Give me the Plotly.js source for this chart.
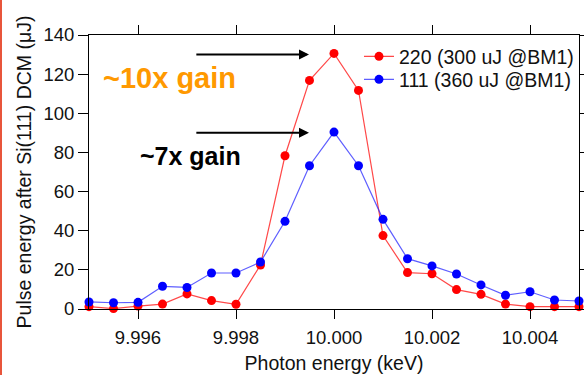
<!DOCTYPE html>
<html>
<head>
<meta charset="utf-8">
<script src="https://cdn.plot.ly/plotly-3.0.1.min.js"></script>
<style>
  html, body { margin: 0; padding: 0; background: #fff; }
  #wrap { position: relative; width: 584px; height: 375px; overflow: hidden; }
  #chart { position: absolute; left: 0; top: 0; width: 584px; height: 375px; }
  #edge { position: absolute; left: 0; top: 0; width: 2px; height: 375px; background: #e8553b; }
</style>
</head>
<body>
<div id="wrap"><div id="chart"></div><div id="edge"></div></div>
<script>
const energy = [9.9950, 9.9955, 9.9960, 9.9965, 9.9970, 9.9975, 9.9980, 9.9985, 9.9990, 9.9995,
                10.0000, 10.0005, 10.0010, 10.0015, 10.0020, 10.0025, 10.0030, 10.0035, 10.0040, 10.0045, 10.0050];
const pulse220 = [1.2, 0.2, 1.5, 2.5, 7.7, 4.3, 2.4, 22.5, 78.3, 116.8,
                  130.6, 111.7, 37.5, 18.6, 18.0, 9.9, 7.5, 2.5, 1.2, 1.2, 1.2];
const pulse111 = [3.6, 3.2, 3.4, 11.6, 11.0, 18.4, 18.4, 24.0, 44.8, 73.2,
                  90.4, 73.2, 45.8, 25.7, 22.0, 17.9, 12.3, 7.0, 8.8, 4.6, 4.1];
const seriesNames = ['220 (300 uJ @BM1)', '111 (360 uJ @BM1)'];
const xTicks = [9.996, 9.998, 10.000, 10.002, 10.004];
const xTickText = ['9.996', '9.998', '10.000', '10.002', '10.004'];
const yTicks = [0, 20, 40, 60, 80, 100, 120, 140];
const gainLabels = ['~10x gain', '~7x gain'];
const peak220 = 130, peak111 = 90;

const FONT = '"Liberation Sans", Arial, Helvetica, sans-serif';

const traces = [
  {
    x: energy, y: pulse220, name: seriesNames[0], type: 'scatter', mode: 'lines+markers',
    line: {color: 'rgba(255,40,40,0.85)', width: 1.2},
    marker: {color: '#ff0000', size: 9},
    cliponaxis: false, legend: 'legend'
  },
  {
    x: energy, y: pulse111, name: seriesNames[1], type: 'scatter', mode: 'lines+markers',
    line: {color: 'rgba(40,40,255,0.75)', width: 1.2},
    marker: {color: '#0000ff', size: 9},
    cliponaxis: false, legend: 'legend2'
  }
];

const axisCommon = {
  showline: true, linecolor: '#000', linewidth: 1, mirror: 'ticks',
  ticks: 'outside', ticklen: 9, tickwidth: 1, tickcolor: '#000',
  showgrid: false, zeroline: false, automargin: false,
  tickfont: {family: FONT, size: 18.5, color: '#111'}
};

const legendCommon = {
  xanchor: 'left', yanchor: 'middle',
  bgcolor: 'rgba(0,0,0,0)', font: {family: FONT, size: 19.5, color: '#111'},
  itemwidth: 30, borderwidth: 0
};

const layout = {
  width: 584, height: 375,
  margin: {l: 89, r: 5, t: 35, b: 66, autoexpand: false},
  paper_bgcolor: '#fff', plot_bgcolor: '#fff',
  font: {family: FONT, color: '#111'},
  showlegend: true,
  legend: Object.assign({}, legendCommon, {x: 0.551, y: 0.921}),
  legend2: Object.assign({}, legendCommon, {x: 0.551, y: 0.837}),
  xaxis: Object.assign({}, axisCommon, {
    range: [9.995, 10.005], tickvals: xTicks, ticktext: xTickText, ticklabelstandoff: 3,
    title: {text: 'Photon energy (keV)', font: {family: FONT, size: 19.5, color: '#111'}, standoff: 9}
  }),
  yaxis: Object.assign({}, axisCommon, {
    range: [0, 140], tickvals: yTicks, ticklen: 10,
    title: {text: 'Pulse energy after Si(111) DCM (μJ)', font: {family: FONT, size: 19.5, color: '#111'}, standoff: 6}
  }),
  annotations: [
    {x: 9.99665, y: 118, xref: 'x', yref: 'y', text: '<b>' + gainLabels[0] + '</b>', showarrow: false,
     font: {family: FONT, size: 29, color: '#ff9900'}},
    {x: 9.99708, y: 78, xref: 'x', yref: 'y', text: '<b>' + gainLabels[1] + '</b>', showarrow: false,
     font: {family: FONT, size: 25, color: '#000'}},
    {x: 9.99949, y: peak220, ax: 9.99716, ay: peak220, xref: 'x', yref: 'y', axref: 'x', ayref: 'y',
     text: '', showarrow: true, arrowhead: 2, arrowsize: 1, arrowwidth: 2, arrowcolor: '#000', standoff: 0},
    {x: 9.99949, y: peak111, ax: 9.99716, ay: peak111, xref: 'x', yref: 'y', axref: 'x', ayref: 'y',
     text: '', showarrow: true, arrowhead: 2, arrowsize: 1, arrowwidth: 2, arrowcolor: '#000', standoff: 0}
  ]
};

Plotly.newPlot('chart', traces, layout, {displayModeBar: false, staticPlot: true});
</script>
</body>
</html>
